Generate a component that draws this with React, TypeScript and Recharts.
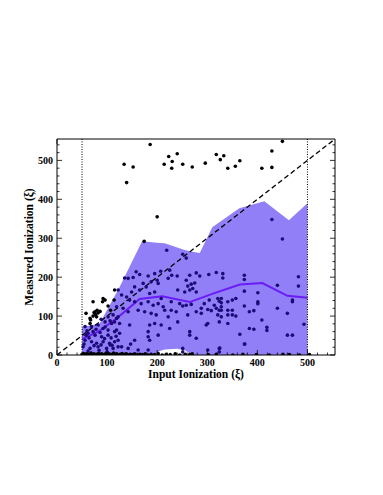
import { ComposedChart, Scatter, Area, Line, XAxis, YAxis, ReferenceLine } from 'recharts';

// 16th/84th-ish envelope of the measured values, per input bin
const bandX = [50, 85, 125, 150, 170, 190, 205, 215, 240, 255, 270, 285, 310, 364, 414, 463, 500];
const bandLow = [0, 0, 0, 0, 0, 0, 10, 14, 16, 12, 0, 0, 0, 0, 0, 0, 0];
const bandHigh = [72, 80, 175, 240, 292, 290, 288, 287, 276, 270, 265, 262, 328, 377, 395, 346, 390];

// running median
const medianX = [50, 85, 120, 165, 210, 265, 310, 365, 410, 460, 500];
const medianY = [41, 62, 95, 144, 151, 136, 157, 181, 185, 152, 147];

// points well above the envelope
const abovePts: [number, number][] = [
  [186, 541], [134, 490], [152, 483], [139, 443], [223, 510], [240, 517], [214, 490], [230, 497],
  [229, 480], [251, 490], [270, 483], [200, 355], [174, 292], [296, 493], [318, 515], [326, 502],
  [333, 512], [341, 480], [356, 485], [365, 499], [409, 480], [429, 482], [429, 524], [450, 549],
  [91, 137], [74, 109], [77, 104], [82, 108], [72, 100], [79, 98], [66, 94], [58, 107],
  [102, 126], [107, 115], [114, 141], [92, 145], [72, 137], [76, 111], [67, 90], [115, 167],
  [66, 81], [86, 112], [80, 115], [96, 141],
];

// points inside the envelope (seen through the shading)
const innerPts: [number, number][] = [
  [429, 348], [450, 298], [251, 259], [258, 249], [219, 269],
  [158, 214], [165, 207], [135, 198], [142, 197], [152, 199], [182, 203], [195, 209], [207, 215],
  [188, 188], [200, 192], [202, 184], [172, 184], [178, 175], [155, 175], [165, 167], [149, 162],
  [195, 162], [185, 158], [208, 145], [122, 167], [129, 154], [139, 149], [145, 141], [155, 137],
  [168, 132], [182, 137], [192, 128], [202, 132], [212, 124], [119, 124], [132, 120], [142, 111],
  [162, 115], [175, 111], [188, 107], [198, 103], [122, 98], [115, 85], [125, 81], [145, 77],
  [185, 77], [195, 81], [208, 77], [119, 64], [182, 60], [182, 47], [202, 51], [125, 56],
  [122, 38], [129, 21], [142, 17], [162, 13], [182, 13], [155, 38], [185, 38],
  [225, 218], [222, 197], [229, 205], [240, 203], [265, 205], [278, 211], [285, 203], [303, 207],
  [318, 212], [331, 209], [258, 192], [261, 177], [268, 182], [275, 185], [265, 167], [271, 171],
  [255, 162], [241, 167], [278, 162], [228, 137], [245, 132], [258, 128], [268, 130], [251, 126],
  [294, 132], [304, 141], [321, 145], [324, 138], [314, 128], [288, 120], [301, 117], [308, 114],
  [318, 120], [324, 115], [215, 115], [228, 115], [238, 111], [278, 111], [288, 107], [321, 103],
  [222, 98], [261, 103], [301, 81], [298, 77], [324, 85], [241, 85], [225, 68], [265, 60],
  [278, 43], [265, 51], [251, 17], [251, 8], [301, 13], [324, 17], [324, 8],
  [331, 198], [374, 205], [374, 194], [374, 164], [440, 179], [401, 160], [401, 137], [401, 132],
  [328, 145], [328, 134], [328, 124], [328, 115], [328, 98], [341, 137], [350, 141], [357, 145],
  [341, 115], [350, 115], [341, 103], [350, 103], [357, 100], [374, 126], [384, 111], [393, 114],
  [341, 81], [409, 90], [419, 71], [419, 63], [384, 68], [393, 66], [365, 53], [374, 28], [440, 120],
  [482, 201], [482, 177], [470, 141], [470, 137], [460, 107], [493, 79], [460, 51], [470, 51],
  [102, 98], [112, 103], [96, 85], [109, 81], [119, 94], [56, 73], [69, 73], [82, 77],
  [92, 68], [102, 64], [62, 56], [76, 51], [89, 47], [102, 51], [115, 60], [56, 38],
  [69, 34], [79, 30], [92, 34], [105, 30], [115, 34], [52, 21], [66, 17], [82, 21],
  [99, 17], [112, 17], [122, 21], [58, 51], [72, 60], [60, 62], [64, 44], [86, 58],
  [95, 42], [108, 44], [54, 28], [74, 24], [88, 26], [100, 8], [62, 10], [84, 12],
  [110, 25], [118, 48], [78, 66], [96, 72], [106, 88], [88, 92],
  [106, 26], [147, 28], [325, 18], [375, 28],
];

// points sitting on the floor
const floorPts: [number, number][] = [
  [50, 2], [53, 4], [56, 1], [59, 3], [62, 0], [65, 2], [68, 5], [71, 1], [74, 3], [77, 0],
  [80, 2], [83, 4], [86, 1], [89, 3], [92, 0], [95, 2], [98, 4], [101, 1], [104, 3], [107, 0],
  [110, 2], [113, 5], [116, 1], [119, 3], [122, 0], [126, 2], [130, 4], [134, 1], [138, 3], [142, 0],
  [146, 2], [150, 1], [155, 3], [160, 0], [165, 2], [170, 1], [176, 3], [182, 0], [188, 2], [195, 1],
  [202, 4], [210, 0], [218, 2], [226, 1], [236, 3], [245, 0], [256, 2], [265, 1], [270, 3], [302, 1],
  [318, 2], [351, 0], [371, 2], [398, 1], [424, 0], [451, 2], [464, 1], [484, 0], [504, 1],
];

const axisTicks = [0, 20, 40, 60, 80, 100, 120, 140, 160, 180, 200, 220, 240, 260, 280, 300, 320, 340, 360, 380, 400, 420, 440, 460, 480, 500, 520, 540];
const majorTicks = [0, 100, 200, 300, 400, 500];

const bandData = bandX.map((x, i) => ({ x, range: [bandLow[i], bandHigh[i]] }));
const medianData = medianX.map((x, i) => ({ x, y: medianY[i] }));
const toXY = (pts: [number, number][]) => pts.map(([x, y]) => ({ x, y }));

const font = '"Liberation Serif", "DejaVu Serif", serif';
const tickLen = (v: number) => (majorTicks.includes(v) ? 5 : 2.5);

const BottomTick = ({ x, y, payload }: any) => (
  <g>
    <line x1={x} x2={x} y1={y} y2={y - tickLen(payload.value)} stroke="#000" strokeWidth={0.8} />
    {majorTicks.includes(payload.value) && (
      <text x={x} y={y + 11} textAnchor="middle" fontSize={10} fontWeight="bold" fontFamily={font} fill="#000">
        {payload.value}
      </text>
    )}
  </g>
);

const TopTick = ({ x, y, payload }: any) => (
  <line x1={x} x2={x} y1={y} y2={y + tickLen(payload.value)} stroke="#000" strokeWidth={0.8} />
);

const LeftTick = ({ x, y, payload }: any) => (
  <g>
    <line x1={x} x2={x + tickLen(payload.value)} y1={y} y2={y} stroke="#000" strokeWidth={0.8} />
    {majorTicks.includes(payload.value) && (
      <text x={x - 4} y={y + 3.5} textAnchor="end" fontSize={10} fontWeight="bold" fontFamily={font} fill="#000">
        {payload.value}
      </text>
    )}
  </g>
);

const RightTick = ({ x, y, payload }: any) => (
  <line x1={x} x2={x - tickLen(payload.value)} y1={y} y2={y} stroke="#000" strokeWidth={0.8} />
);

const dot = (fill: string) => (p: any) => <circle cx={p.cx} cy={p.cy} r={1.8} fill={fill} />;

export default function App() {
  return (
    <ComposedChart
      width={367}
      height={479}
      data={bandData}
      margin={{ top: 126, right: 30, bottom: 102, left: 9 }}
    >
      <XAxis
        dataKey="x"
        type="number"
        domain={[0, 555]}
        ticks={axisTicks}
        interval={0}
        tickSize={0}
        tickMargin={0}
        height={30}
        allowDataOverflow
        axisLine={{ stroke: '#000', strokeWidth: 1 }}
        tick={(p: any) => <BottomTick {...p} />}
        label={{ value: 'Input Ionization (ξ)', position: 'insideBottom', offset: 7, fontSize: 11.5, fontWeight: 'bold', fontFamily: font, fill: '#000' }}
      />
      <XAxis
        xAxisId="top"
        orientation="top"
        type="number"
        domain={[0, 555]}
        ticks={axisTicks}
        interval={0}
        tickSize={0}
        tickMargin={0}
        height={5}
        allowDataOverflow
        axisLine={{ stroke: '#000', strokeWidth: 1 }}
        tick={(p: any) => <TopTick {...p} />}
      />
      <YAxis
        type="number"
        domain={[0, 555]}
        ticks={axisTicks}
        interval={0}
        tickSize={0}
        tickMargin={0}
        width={40}
        allowDataOverflow
        axisLine={{ stroke: '#000', strokeWidth: 1 }}
        tick={(p: any) => <LeftTick {...p} />}
        label={{ value: 'Measured Ionization (ξ)', angle: -90, position: 'insideLeft', offset: 12, fontSize: 11.5, fontWeight: 'bold', fontFamily: font, fill: '#000', style: { textAnchor: 'middle' } }}
      />
      <YAxis
        yAxisId="right"
        orientation="right"
        type="number"
        domain={[0, 555]}
        ticks={axisTicks}
        interval={0}
        tickSize={0}
        tickMargin={0}
        width={10}
        allowDataOverflow
        axisLine={{ stroke: '#000', strokeWidth: 1 }}
        tick={(p: any) => <RightTick {...p} />}
      />
      <Area
        dataKey="range"
        type="linear"
        stroke="none"
        fill="#2200ee"
        fillOpacity={0.5}
        isAnimationActive={false}
      />
      <Scatter data={toXY(abovePts)} dataKey="y" isAnimationActive={false} shape={dot('#000')} />
      <Scatter data={toXY(innerPts)} dataKey="y" isAnimationActive={false} shape={dot('#1c0a78')} />
      <Scatter data={toXY(floorPts)} dataKey="y" isAnimationActive={false} shape={dot('#000')} />
      <Line
        data={medianData}
        dataKey="y"
        type="linear"
        stroke="#6a1cf6"
        strokeWidth={2}
        dot={false}
        isAnimationActive={false}
      />
      <ReferenceLine x={50} stroke="#000" strokeWidth={1} strokeDasharray="1 1.5" />
      <ReferenceLine x={500} stroke="#000" strokeWidth={1} strokeDasharray="1 1.5" />
      <ReferenceLine
        segment={[{ x: 0, y: 0 }, { x: 555, y: 555 }]}
        stroke="#000"
        strokeWidth={1.3}
        strokeDasharray="5 3"
      />
    </ComposedChart>
  );
}
